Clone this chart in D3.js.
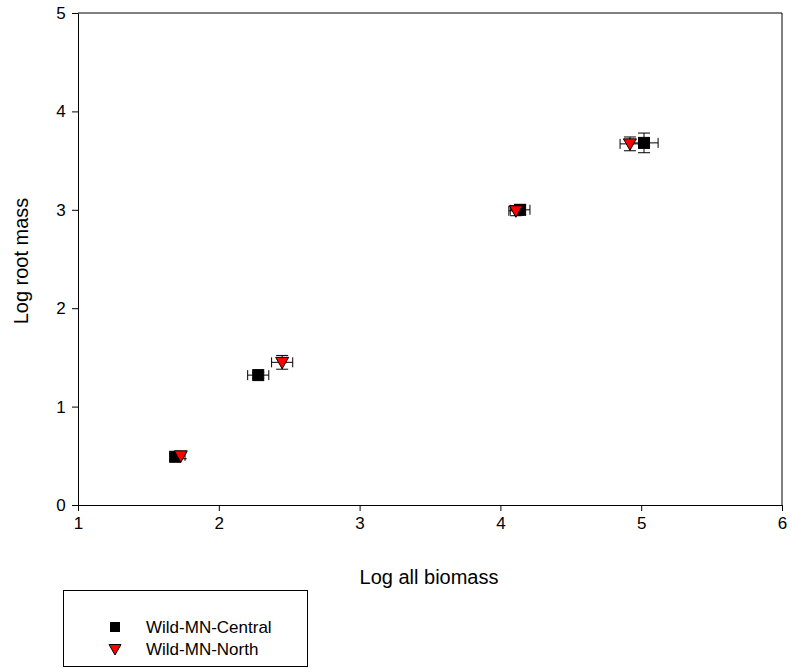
<!DOCTYPE html>
<html>
<head>
<meta charset="utf-8">
<script src="https://cdn.jsdelivr.net/npm/d3@7"></script>
<style>
  body { margin: 0; background: #fff; }
  text { font-family: "Liberation Sans", Arial, sans-serif; }
</style>
</head>
<body>
<div class="canvas"></div>
<script>
// data
const seriesNames = ["Wild-MN-Central", "Wild-MN-North"];
const centralX = [1.69, 2.28, 4.14, 5.02];
const centralY = [0.49, 1.32, 3.00, 3.68];
const centralXErr = [0.03, 0.075, 0.07, 0.10];
const centralYErr = [0.03, 0.03, 0.05, 0.10];
const northX = [1.73, 2.45, 4.11, 4.92];
const northY = [0.50, 1.45, 2.99, 3.67];
const northXErr = [0.03, 0.075, 0.05, 0.07];
const northYErr = [0.03, 0.07, 0.05, 0.07];
const xTicks = [1, 2, 3, 4, 5, 6];
const yTicks = [0, 1, 2, 3, 4, 5];

const dims = {width: 791, height: 668};
const plot = {left: 78, right: 782, top: 13, bottom: 505};

const svg = d3.select(".canvas").append("svg")
    .attr("width", dims.width)
    .attr("height", dims.height);

const x = d3.scaleLinear().domain([1, 6]).range([plot.left, plot.right]);
const y = d3.scaleLinear().domain([0, 5]).range([plot.bottom, plot.top]);

// frame (top + right)
svg.append("path")
    .attr("d", `M${plot.left},${plot.top}H${plot.right}V${plot.bottom}`)
    .attr("fill", "none").attr("stroke", "#000").attr("stroke-width", 1);

// axes
const xAxis = svg.append("g")
    .attr("transform", `translate(0,${plot.bottom})`)
    .call(d3.axisBottom(x).tickValues(xTicks).tickFormat(d3.format("d")).tickSize(6).tickSizeOuter(0));
const yAxis = svg.append("g")
    .attr("transform", `translate(${plot.left},0)`)
    .call(d3.axisLeft(y).tickValues(yTicks).tickFormat(d3.format("d")).tickSize(6).tickSizeOuter(0));

[xAxis, yAxis].forEach(g => {
    g.selectAll("text").attr("font-size", 17).attr("fill", "#000")
        .style("font-family", "'Liberation Sans', Arial, sans-serif");
    g.selectAll("line, path").attr("stroke", "#000");
});
xAxis.selectAll("text").attr("dy", "0.9em");
yAxis.selectAll("text").attr("dx", "-0.2em");

// axis titles
svg.append("text")
    .attr("x", (plot.left + plot.right) / 2 - 1)
    .attr("y", 584)
    .attr("text-anchor", "middle")
    .attr("font-size", 20)
    .text("Log all biomass");
svg.append("text")
    .attr("transform", `translate(28,${(plot.top + plot.bottom) / 2 + 2}) rotate(-90)`)
    .attr("text-anchor", "middle")
    .attr("font-size", 20)
    .text("Log root mass");

// build rows for each series
const makeRows = (xs, ys, xe, ye) => xs.map((v, i) => ({x: v, y: ys[i], xe: xe[i], ye: ye[i]}));
const series = [
    {name: seriesNames[0], rows: makeRows(centralX, centralY, centralXErr, centralYErr), shape: "square", fill: "#000"},
    {name: seriesNames[1], rows: makeRows(northX, northY, northXErr, northYErr), shape: "triangle", fill: "#ff0000"}
];

const capH = 5;
const marker = (g, shape, fill) => {
    if (shape === "square") {
        g.append("rect").attr("x", -5.5).attr("y", -5.5).attr("width", 11).attr("height", 11)
            .attr("fill", fill).attr("stroke", "#000").attr("stroke-width", 1);
    } else {
        g.append("path").attr("d", "M-6.5,-5L6.5,-5L0,6.5Z")
            .attr("fill", fill).attr("stroke", "#000").attr("stroke-width", 1);
    }
};

series.forEach(s => {
    const groups = svg.append("g").selectAll(".pt")
        .data(s.rows)
        .enter().append("g")
        .attr("class", "pt");

    // error bars
    groups.append("path")
        .attr("fill", "none").attr("stroke", "#000").attr("stroke-width", 1)
        .attr("d", d => {
            const cx = x(d.x), cy = y(d.y);
            const x0 = x(d.x - d.xe), x1 = x(d.x + d.xe);
            const y0 = y(d.y - d.ye), y1 = y(d.y + d.ye);
            return `M${x0},${cy}H${x1}` +
                `M${x0},${cy - capH}V${cy + capH}M${x1},${cy - capH}V${cy + capH}` +
                `M${cx},${y0}V${y1}` +
                `M${cx - 6},${y0}H${cx + 6}M${cx - 6},${y1}H${cx + 6}`;
        });

    groups.append("g")
        .attr("transform", d => `translate(${x(d.x)},${y(d.y)})`)
        .each(function() { marker(d3.select(this), s.shape, s.fill); });
});

// legend
const legend = svg.append("g");
legend.append("rect")
    .attr("x", 63.5).attr("y", 590.5).attr("width", 244).attr("height", 76)
    .attr("fill", "#fff").attr("stroke", "#000").attr("stroke-width", 1);

series.forEach((s, i) => {
    const ly = 627 + i * 22;
    const mg = legend.append("g").attr("transform", `translate(115,${ly})`);
    if (s.shape === "square") {
        mg.append("rect").attr("x", -5).attr("y", -5).attr("width", 10).attr("height", 10).attr("fill", "#000");
    } else {
        mg.append("path").attr("d", "M-6,-4.5L6,-4.5L0,6Z").attr("fill", s.fill).attr("stroke", "#000");
    }
    legend.append("text")
        .attr("x", 146).attr("y", ly)
        .attr("dy", "0.35em")
        .attr("font-size", 17)
        .text(s.name);
});
</script>
</body>
</html>
